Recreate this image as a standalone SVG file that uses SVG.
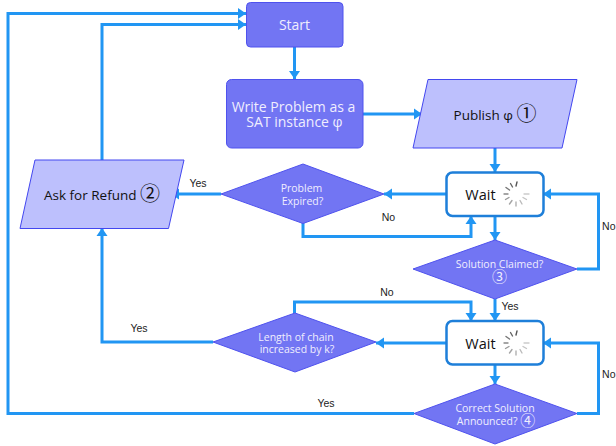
<svg xmlns="http://www.w3.org/2000/svg" width="616" height="446" viewBox="0 0 616 446">
<style>
.proc{fill:#7275f3;stroke:#4f52ee;stroke-width:1}
.io{fill:#bdc0fd;stroke:#4347f0;stroke-width:1}
.wait{fill:#fff;stroke:#1e7fd9;stroke-width:2.5}
.w{font-family:"Open Sans",sans-serif;fill:#f0eefe;text-anchor:middle}
.d{font-family:"Open Sans",sans-serif;fill:#111;text-anchor:middle}
.n{font-family:"Noto Sans CJK JP",sans-serif}
.l{font-family:"Liberation Sans",sans-serif;font-size:10.500px;fill:#222;text-anchor:middle}
.e{text-anchor:end}
.c{fill:none;stroke:#2196f3;stroke-width:3}
.spin line{stroke-width:1.400;stroke-linecap:round}
</style>
<defs>
<marker id="a" markerUnits="userSpaceOnUse" markerWidth="10" markerHeight="13" refX="9" refY="6.500" orient="auto"><path d="M1 1L9 6.500L1 12Z" fill="#2196f3"/></marker>
<g id="spinner" class="spin">
<line x1="0" y1="-8" x2="1" y2="-12" stroke="#555"/>
<line x1="-3.500" y1="-7" x2="-5.500" y2="-10.500" stroke="#666"/>
<line x1="-6.500" y1="-4" x2="-10" y2="-6.500" stroke="#777"/>
<line x1="-8" y1="0" x2="-12" y2="0" stroke="#888"/>
<line x1="-7" y1="3.500" x2="-10.500" y2="5.500" stroke="#999"/>
<line x1="-4" y1="6.500" x2="-6.500" y2="10" stroke="#a5a5a5"/>
<line x1="0" y1="8" x2="0" y2="12" stroke="#b0b0b0"/>
<line x1="4" y1="6.500" x2="6" y2="10" stroke="#bbb"/>
<line x1="7" y1="3.500" x2="10.500" y2="5.500" stroke="#c4c4c4"/>
<line x1="8" y1="0" x2="13" y2="0" stroke="#ccc"/>
</g>
</defs>
<rect width="616" height="446" fill="#fff"/>
<g id="connectors">
<path class="c" d="M294.500 47V79" marker-end="url(#a)"/>
<path class="c" d="M363 114H422" marker-end="url(#a)"/>
<path class="c" d="M495 148V172" marker-end="url(#a)"/>
<path class="c" d="M446 194H384" marker-end="url(#a)"/>
<path class="c" d="M221 194H171" marker-end="url(#a)"/>
<path class="c" d="M102 160V24.500H246" marker-end="url(#a)"/>
<path class="c" d="M303 223V236.500H471V216" marker-end="url(#a)"/>
<path class="c" d="M495 216V240" marker-end="url(#a)"/>
<path class="c" d="M577 269H598.500V194H543" marker-end="url(#a)"/>
<path class="c" d="M495 299V321" marker-end="url(#a)"/>
<path class="c" d="M446 343H376" marker-end="url(#a)"/>
<path class="c" d="M294.500 313V302H471V321" marker-end="url(#a)"/>
<path class="c" d="M213 342H102V228" marker-end="url(#a)"/>
<path class="c" d="M495 365V384" marker-end="url(#a)"/>
<path class="c" d="M577 413.500H598.500V343H543" marker-end="url(#a)"/>
<path class="c" d="M414 413.500H8V13.500H246" marker-end="url(#a)"/>
</g>
<g id="start"><rect class="proc" x="246.500" y="2.500" width="96.500" height="44.500" rx="4"/><text class="w" x="294.500" y="30" font-size="14">Start</text></g>
<g id="write"><rect class="proc" x="226.500" y="79.500" width="136.500" height="68.500" rx="5"/><text class="w" font-size="14"><tspan x="293.500" y="112">Write Problem as a</tspan><tspan x="294.500" y="127">SAT instance φ</tspan></text></g>
<g id="publish"><polygon class="io" points="428,79.500 577,79.500 562,148 413,148"/><text class="d" x="495" y="120" font-size="13.500">Publish φ <tspan class="n" font-size="20" dy="1">①</tspan></text></g>
<g id="refund"><polygon class="io" points="35,160 184,160 168.500,228.500 20,228.500"/><text class="d" x="102" y="200" font-size="13.500">Ask for Refund <tspan class="n" font-size="20" dy="1">②</tspan></text></g>
<g id="expired"><polygon class="proc" points="221,194 303,164 384,194 303,223.500"/><text class="w" font-size="10.500"><tspan x="301.500" y="192">Problem</tspan><tspan x="302.500" y="205">Expired?</tspan></text></g>
<g id="wait1"><rect class="wait" x="446.500" y="172.500" width="97" height="43.500" rx="6"/><text class="d" x="480.500" y="200" font-size="14.500">Wait</text><use href="#spinner" x="516" y="194"/></g>
<g id="claimed"><polygon class="proc" points="413,269 495,240 577,269 495,299"/><text class="w" font-size="10.500"><tspan x="499.500" y="268">Solution Claimed?</tspan><tspan class="n" font-size="15" x="499.500" y="282">③</tspan></text></g>
<g id="wait2"><rect class="wait" x="446.500" y="321" width="97" height="43.500" rx="6"/><text class="d" x="480.500" y="348.500" font-size="14.500">Wait</text><use href="#spinner" x="516" y="343"/></g>
<g id="length"><polygon class="proc" points="213,342 295,313 376,342 295,372"/><text class="w" font-size="10.500"><tspan x="296" y="341">Length of chain</tspan><tspan x="297" y="353">increased by k?</tspan></text></g>
<g id="correct"><polygon class="proc" points="414,413.500 495,384 577,413.500 495,444"/><text class="w" font-size="10.500"><tspan x="495" y="412">Correct Solution</tspan><tspan x="496" y="424.500">Announced? <tspan class="n" font-size="15" dy="1">④</tspan></tspan></text></g>
<g id="labels">
<text class="l" x="198" y="187">Yes</text>
<text class="l" x="388.500" y="221">No</text>
<text class="l e" x="615.500" y="230">No</text>
<text class="l" x="510" y="310">Yes</text>
<text class="l" x="387" y="296">No</text>
<text class="l" x="139" y="332">Yes</text>
<text class="l e" x="615.500" y="378">No</text>
<text class="l" x="326" y="407">Yes</text>
</g>
</svg>
